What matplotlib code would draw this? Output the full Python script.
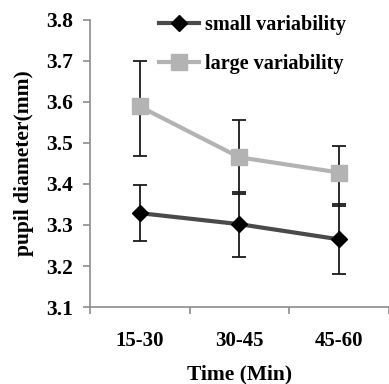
import numpy as np
import matplotlib.pyplot as plt

# data
times = ["15-30", "30-45", "45-60"]
small_mean = [3.329, 3.302, 3.265]
small_low = [3.262, 3.221, 3.180]
small_high = [3.398, 3.380, 3.352]
large_mean = [3.589, 3.465, 3.428]
large_low = [3.469, 3.376, 3.346]
large_high = [3.701, 3.556, 3.493]

plt.rcParams['font.family'] = ['Liberation Serif', 'DejaVu Serif']
plt.rcParams['font.weight'] = 'bold'

fig = plt.figure(figsize=(3.89, 3.84), dpi=100)
ax = fig.add_axes([0.231, 0.2005, 0.769, 0.7475])

x = np.arange(len(times))


def err(mean, low, high):
    mean = np.array(mean)
    return [mean - np.array(low), np.array(high) - mean]


ax.errorbar(x, small_mean, yerr=err(small_mean, small_low, small_high),
            fmt='none', ecolor='#1a1a1a', elinewidth=1.3, capsize=5, capthick=1.3, zorder=2)
ax.errorbar(x, large_mean, yerr=err(large_mean, large_low, large_high),
            fmt='none', ecolor='#1a1a1a', elinewidth=1.3, capsize=5, capthick=1.3, zorder=2)

ax.plot(x, small_mean, color='#4a4a4a', lw=3, marker='D', ms=8,
        mfc='black', mec='black', label='small variability', zorder=3)
ax.plot(x, large_mean, color='#b3b3b3', lw=3, marker='s', ms=11,
        mfc='#b3b3b3', mec='#b3b3b3', label='large variability', zorder=3)

ax.set_xlim(-0.5, 2.5)
ax.set_ylim(3.1, 3.8)
ax.set_yticks(np.arange(3.1, 3.81, 0.1))
ax.set_yticklabels([f"{v:.1f}" for v in np.arange(3.1, 3.81, 0.1)])
ax.set_xticks(x)
ax.set_xticklabels(times)
ax.set_xticks([-0.5, 0.5, 1.5, 2.5], minor=True)

for s in ['top', 'right']:
    ax.spines[s].set_visible(False)
for s in ['left', 'bottom']:
    ax.spines[s].set_color('#8c8c8c')
    ax.spines[s].set_linewidth(1.2)

ax.tick_params(axis='x', which='major', length=0, pad=17, labelsize=15)
ax.tick_params(axis='x', which='minor', length=5, color='#8c8c8c', width=1.2)
ax.tick_params(axis='y', length=5, color='#8c8c8c', width=1.2, labelsize=15.5, pad=7)

ax.set_xlabel("Time (Min)", fontsize=15.5, fontweight='bold', labelpad=10)
ax.set_ylabel("pupil diameter(mm)", fontsize=15.5, fontweight='bold', labelpad=9)

ax.legend(loc='upper left', bbox_to_anchor=(0.17, 1.08), frameon=False,
          fontsize=14.5, handlelength=2.0, labelspacing=0.95, handletextpad=0.3)

fig.savefig("out.png", dpi=100)
